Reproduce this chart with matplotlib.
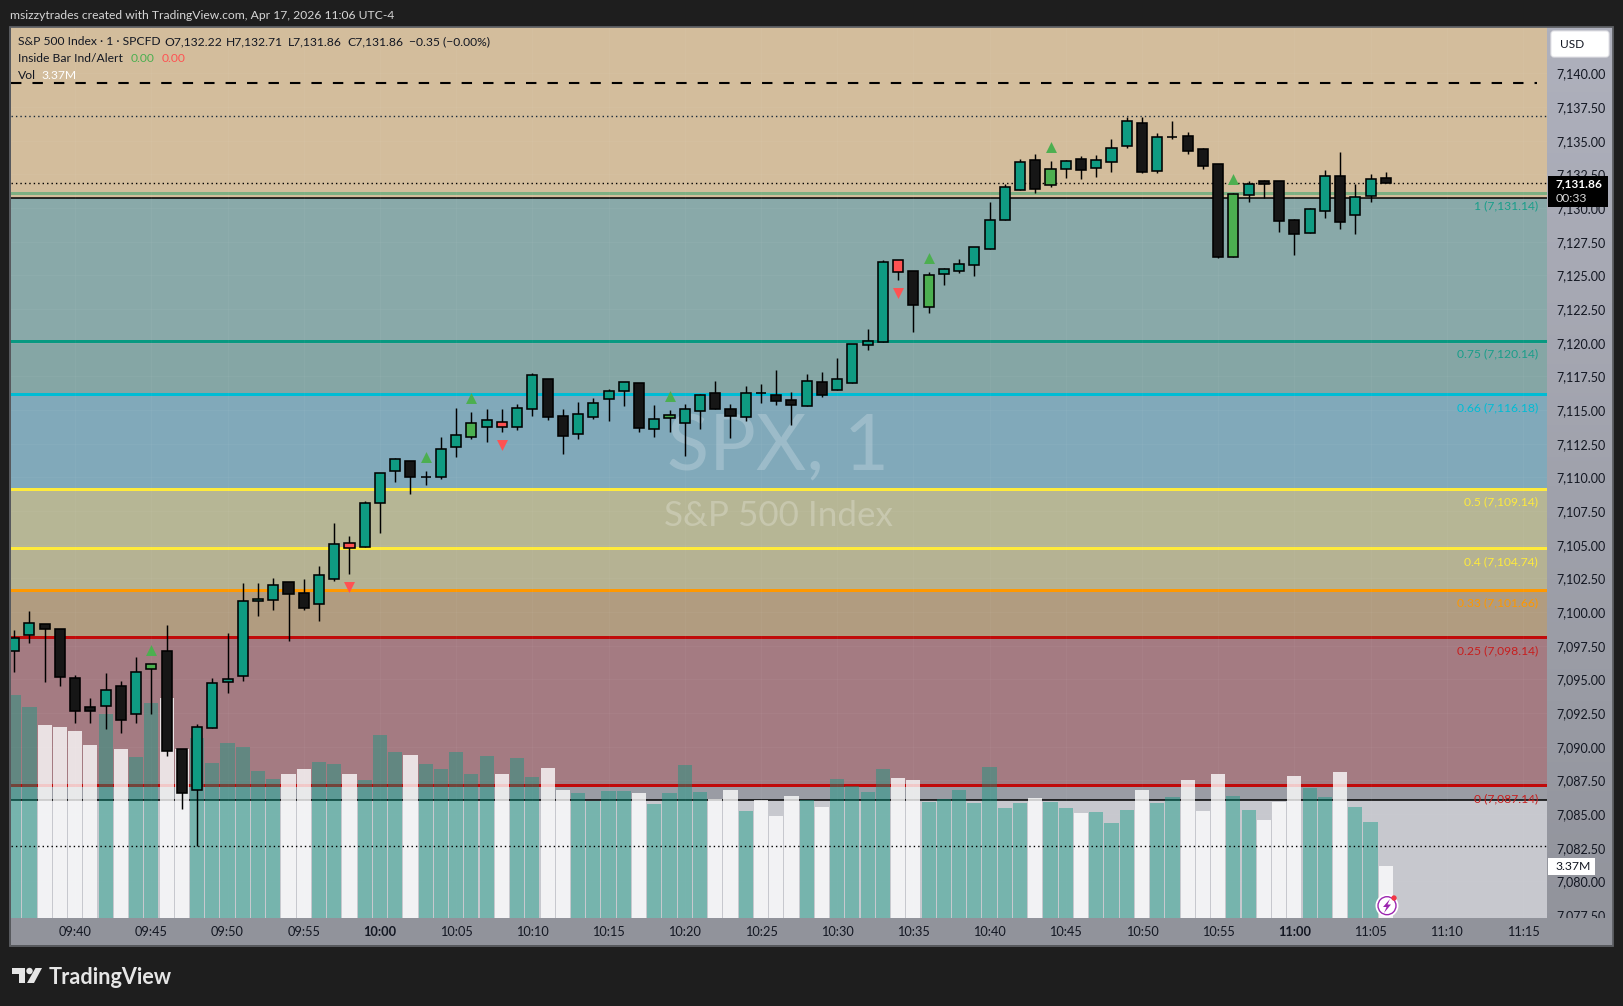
import matplotlib
matplotlib.use("Agg")
import matplotlib.pyplot as plt
import numpy as np
from matplotlib.patches import Rectangle, FancyBboxPatch, Circle, Polygon
from matplotlib.transforms import Bbox

plt.rcParams['font.family'] = ['Lato', 'DejaVu Sans']

W, H = 1623, 1006
opens = [7097.09,7098.33,7099.09,7098.72,7095.08,7092.93,7093.00,7094.49,7092.41,7095.75,
         7097.11,7089.81,7086.77,7091.37,7094.84,7095.28,7100.80,7100.88,7102.21,7101.39,
         7100.58,7102.43,7105.10,7104.86,7108.12,7110.50,7111.19,7110.03,7110.05,7112.28,
         7113.02,7113.77,7114.09,7113.77,7115.10,7117.28,7114.53,7113.25,7114.51,7115.84,
         7116.44,7116.98,7113.62,7114.43,7114.06,7114.95,7116.24,7115.05,7114.51,7116.24,
         7116.09,7115.72,7115.33,7117.06,7116.51,7116.98,7119.85,7120.08,7126.11,7125.30,
         7122.67,7125.12,7125.35,7125.79,7126.98,7129.13,7131.36,7133.54,7131.68,7132.92,
         7133.61,7132.99,7133.44,7134.63,7136.29,7132.77,7135.25,7135.32,7134.36,7133.24,
         7126.39,7130.99,7131.98,7131.98,7129.08,7128.17,7129.80,7132.35,7129.50,7130.92,
         7132.22]
highs = [7098.67,7100.08,7099.09,7098.72,7095.33,7093.62,7095.48,7094.89,7096.67,7096.12,
         7099.04,7089.81,7091.69,7095.11,7098.45,7102.16,7102.16,7102.53,7102.21,7102.46,
         7103.42,7106.61,7105.65,7108.25,7110.30,7111.44,7111.19,7110.47,7113.00,7115.15,
         7114.85,7115.08,7115.08,7115.45,7117.75,7117.28,7115.08,7115.60,7115.89,7116.54,
         7117.06,7116.98,7115.37,7115.00,7115.45,7116.19,7117.16,7115.45,7116.79,7116.93,
         7117.97,7116.34,7117.68,7117.82,7118.86,7119.88,7121.02,7126.14,7126.11,7125.30,
         7125.25,7125.55,7126.21,7127.08,7130.45,7131.76,7133.64,7134.01,7133.49,7133.56,
         7133.86,7133.93,7135.10,7136.78,7136.78,7135.57,7136.46,7135.64,7134.45,7133.24,
         7131.11,7132.00,7132.08,7131.98,7129.18,7130.00,7132.82,7134.16,7131.76,7132.52,
         7132.71]
lows = [7095.58,7097.73,7094.84,7094.51,7091.79,7091.79,7091.35,7091.05,7091.79,7092.46,
        7089.34,7085.41,7082.66,7091.37,7094.02,7094.91,7099.74,7100.16,7097.88,7100.18,
        7099.37,7102.33,7102.85,7104.86,7105.90,7109.68,7108.79,7109.46,7109.91,7111.54,
        7112.85,7112.63,7113.37,7113.52,7114.56,7114.26,7111.74,7112.85,7114.36,7114.21,
        7115.33,7113.37,7113.00,7113.37,7111.59,7113.59,7115.10,7112.92,7114.19,7115.52,
        7115.37,7113.89,7115.33,7115.99,7116.51,7116.98,7119.46,7120.08,7124.65,7120.79,
        7122.20,7124.28,7125.20,7124.98,7126.98,7129.13,7131.36,7131.14,7131.58,7132.23,
        7132.15,7132.30,7132.67,7134.48,7132.62,7132.62,7135.15,7134.01,7132.92,7126.31,
        7126.39,7130.47,7130.72,7128.22,7126.51,7128.17,7129.26,7128.44,7128.07,7130.45,
        7131.86]
closes = [7098.05,7099.17,7098.72,7095.16,7092.63,7092.63,7094.19,7091.97,7095.53,7096.12,
          7089.72,7086.55,7091.45,7094.71,7095.01,7100.80,7100.95,7101.99,7101.32,7100.33,
          7102.73,7105.03,7104.73,7108.07,7110.30,7111.34,7110.05,7110.03,7112.08,7113.12,
          7114.01,7114.24,7113.77,7115.13,7117.58,7114.51,7113.10,7114.68,7115.50,7116.39,
          7117.06,7113.69,7114.31,7114.61,7115.05,7116.09,7115.10,7114.58,7116.24,7116.24,
          7115.70,7115.40,7117.13,7116.14,7117.28,7119.88,7120.10,7125.97,7125.27,7122.82,
          7125.00,7125.45,7125.82,7127.08,7129.08,7131.53,7133.39,7131.44,7132.87,7133.46,
          7132.85,7133.54,7134.43,7136.43,7132.70,7135.25,7135.25,7134.26,7133.14,7126.39,
          7131.01,7131.76,7131.81,7129.06,7128.09,7129.90,7132.35,7128.99,7130.79,7132.13,
          7131.86]
volumes = [14.33,13.55,12.40,12.27,12.01,11.11,13.13,10.86,10.34,13.79,
           14.13,10.86,11.54,9.96,11.24,10.99,9.44,8.93,9.25,9.57,
           10.04,9.89,9.25,8.89,11.76,10.69,10.47,9.91,9.57,10.69,
           9.27,10.43,9.25,10.30,9.06,9.64,8.22,8.03,7.52,8.16,
           8.16,8.03,7.32,8.03,9.83,8.09,7.64,8.22,6.87,7.58,
           6.55,7.84,7.58,7.13,8.93,8.48,8.09,9.57,8.99,8.87,
           7.45,7.64,8.22,7.39,9.70,7.07,7.39,7.71,7.45,7.07,
           6.75,6.81,6.10,6.94,8.22,7.39,7.77,8.87,6.87,9.25,
           7.84,6.94,6.30,7.45,9.12,8.35,7.77,9.38,7.13,6.17,
           3.37]
white_volume_bars = [2,3,4,5,7,10,11,18,19,22,26,32,35,36,41,46,47,49,50,51,53,58,59,67,70,74,77,78,79,82,83,84,87,90]
inside_green = [9,30,43,60,68,80]
inside_red = [22,32,58]
up_markers_bar = [9,27,30,43,60,68,80]
up_markers_price = [7097.16,7111.49,7115.87,7116.02,7126.26,7134.50,7132.13]
down_markers_bar = [22,32,58]
down_markers_price = [7101.89,7112.40,7123.66]

fib_labels = ['1','0.75','0.66','0.5','0.4','0.33','0.25','0']
fib_prices = [7131.14,7120.14,7116.18,7109.14,7104.74,7101.66,7098.14,7087.14]
fib_colors = ['#7DAF82','#089981','#00BCD4','#FFEB3B','#FFEB3B','#FF9800','#C10A0A','#C10A0A']
fib_text_colors = ['#1A9E8A','#1A9E8A','#00BCD4','#FFEB3B','#FFEB3B','#FF9800','#C81E1E','#C81E1E']
band_edges = [7143.44,7130.72,7120.14,7116.18,7109.14,7104.74,7101.66,7098.14,7087.14,7086.05,7077.29]
band_colors = ['#D3BD9C','#89A9A9','#85A6A5','#81A9BA','#B6B695','#B5B293','#B19C80','#A47B82','#9A9CA4','#C7C8CE']

price_ticks = [7140-2.5*i for i in range(26)]
time_tick_bars = [4+5*i for i in range(20)]
time_tick_labels = ['09:40','09:45','09:50','09:55','10:00','10:05','10:10','10:15','10:20','10:25',
                    '10:30','10:35','10:40','10:45','10:50','10:55','11:00','11:05','11:10','11:15']

BG = '#1E1E1E'
fig = plt.figure(figsize=(W/100, H/100), dpi=100, facecolor=BG)
L, R, T, B = 10.5, 1547.0, 27.0, 918.0
pos = [L/W, 1-B/H, (R-L)/W, (B-T)/H]
xlim = ((L-14.2)/15.24, (R-14.2)/15.24)
ylim = (7077.29, 7143.44)

def pxax(x0, y0, x1, y1, z):
    a = fig.add_axes([x0/W, 1-y1/H, (x1-x0)/W, (y1-y0)/H], zorder=z)
    a.axis('off')
    return a

# price/time strip backgrounds
strip = pxax(L, T, 1612, 945, 0)
grad = np.linspace(0, 1, 256)[:, None]
c0, c1 = np.array([0xAF,0xB1,0xBD])/255, np.array([0x91,0x93,0x9B])/255
strip.imshow(c0[None,None,:]*(1-grad[:,:,None])+c1[None,None,:]*grad[:,:,None], aspect='auto')

ax = fig.add_axes(pos, zorder=1)
ax.set_xlim(xlim); ax.set_ylim(ylim)
for i, c in enumerate(band_colors):
    ax.axhspan(band_edges[i+1], band_edges[i], color=c, lw=0, zorder=0)
for s in ax.spines.values():
    s.set_visible(False)
ax.grid(True, color='white', alpha=0.035, lw=0.8)
ax.set_axisbelow(False)
for p, c in zip(fib_prices, fib_colors):
    ax.axhline(p, color=c, lw=3*0.72, zorder=2)
ax.axhline(7130.72, color='black', lw=1.1, zorder=2)
ax.axhline(7086.05, color='black', lw=1.1, zorder=2)
for l, p, c in zip(fib_labels, fib_prices, fib_text_colors):
    ax.annotate(f"{l} ({p:,.2f})", xy=(100, p), xytext=(0, -9.5), textcoords='offset points',
                ha='right', va='center', color=c, fontsize=8.7, zorder=3)
ax.text(0.4995, 0.526, 'SPX, 1', transform=ax.transAxes, ha='center', va='center',
        fontsize=56, color=(1, 1, 1, 0.22), zorder=1)
ax.text(0.4995, 0.451, 'S&P 500 Index', transform=ax.transAxes, ha='center', va='center',
        fontsize=25.2, color=(1, 1, 1, 0.24), zorder=1)
ax.yaxis.tick_right()
ax.set_yticks(price_ticks)
ax.set_yticklabels([f"{p:,.2f}" for p in price_ticks])
ax.set_xticks(time_tick_bars)
ax.set_xticklabels(time_tick_labels)
ax.tick_params(axis='y', length=0, pad=6.5, labelsize=9.0, labelcolor='#131722')
ax.tick_params(axis='x', length=0, pad=6, labelsize=9.2, labelcolor='#131722')
for t in ax.get_xticklabels():
    if t.get_text() in ('10:00', '11:00'):
        t.set_fontweight('bold')
clip = Bbox([[1548, H-918], [1612, H-27]])
for t in ax.get_yticklabels():
    t.set_clip_box(clip); t.set_clip_on(True)

# volume
vax = fig.add_axes(pos, zorder=2, facecolor='none')
vax.axis('off')
vax.set_xlim(xlim); vax.set_ylim(0, 891/15.56)
n = np.arange(len(opens))
vol_cols = [(1, 1, 1, 0.78) if i in white_volume_bars else (8/255, 153/255, 129/255, 0.42) for i in n]
vax.bar(n, volumes, width=0.93, color=vol_cols, lw=0)

# candles
cax = fig.add_axes(pos, zorder=3, facecolor='none')
cax.axis('off')
cax.set_xlim(xlim); cax.set_ylim(ylim)
o, h, l, c = map(np.array, (opens, highs, lows, closes))
def body_color(i):
    if i in inside_green: return '#4CAF50'
    if i in inside_red: return '#FF5252'
    return '#0F9B82' if c[i] >= o[i] else '#161616'
cols = [body_color(i) for i in n]
cax.axhline(7136.81, color='#1B2A3A', lw=1.0, dashes=(1, 2.2), zorder=1)
cax.axhline(7131.86, color='black', lw=1.0, dashes=(1, 2.2), zorder=1)
cax.axhline(7082.61, color='black', lw=1.0, dashes=(1, 2.2), zorder=1)
cax.plot([xlim[0], 99.9], [7139.30, 7139.30], color='black', lw=1.5, dashes=(5, 5.3), zorder=1,
         dash_capstyle='butt')
cax.vlines(n, l, h, color='black', lw=1.05, zorder=3)
cax.bar(n, c-o, bottom=o, width=0.66, color=cols, edgecolor='black', lw=1.15, zorder=4)
cax.scatter(up_markers_bar, up_markers_price, marker='^', s=62, color='#4CAF50', lw=0, zorder=5)
cax.scatter(down_markers_bar, down_markers_price, marker='v', s=62, color='#FF5252', lw=0, zorder=5)

# chrome overlay
ov = fig.add_axes([0, 0, 1, 1], zorder=10, facecolor='none')
ov.axis('off')
ov.set_xlim(0, W); ov.set_ylim(H, 0)
ov.add_patch(Rectangle((9.5, 26.5), 1603, 919, fill=False, ec='#5E6064', lw=1.3))
TXT = '#131722'
def t(x, y, s, **k):
    k.setdefault('fontsize', 8.7); k.setdefault('color', TXT); k.setdefault('va', 'center')
    return ov.text(x, y, s, **k)
t(10, 15, 'msizzytrades created with TradingView.com, Apr 17, 2026 11:06 UTC-4', color='#D6D6D6')
t(18, 41.7, 'S&P 500 Index · 1 · SPCFD')
for x, s in [(164, 'O7,132.22'), (226, 'H7,132.71'), (288, 'L7,131.86'), (347.5, 'C7,131.86'), (409, '−0.35 (−0.00%)')]:
    t(x, 41.7, s)
t(18, 58.7, 'Inside Bar Ind/Alert')
t(131, 58.7, '0.00', color='#4CAF50')
t(161.4, 58.7, '0.00', color='#FF5252')
t(18, 75.7, 'Vol')
t(41.8, 75.7, '3.37M', color='white')
# USD button
ov.add_patch(FancyBboxPatch((1552.5, 32.5), 55, 23, boxstyle='round,pad=1.5,rounding_size=3', fc='white', ec='#E4E4E8', lw=0.8))
t(1560, 44.5, 'USD', fontsize=8.6)
# last price badge
ov.add_patch(Rectangle((1548, 176), 60, 30.7, fc='black', lw=0))
t(1556, 184, '7,131.86', color='white', fontweight='bold', fontsize=8.6)
t(1556, 198, '00:33', color='#D8D8D8', fontsize=8.8)
# volume badge
ov.add_patch(Rectangle((1548, 858), 47, 17, fc='white', lw=0))
t(1556, 866.5, '3.37M', fontsize=8.8)
# Lightning icon
ov.add_patch(Circle((1387, 905.7), 11.5, fc='white', lw=0))
ov.add_patch(Circle((1387, 905.7), 9, fc='none', ec='#9C27B0', lw=1.0))
ov.add_patch(Polygon([(1390, 899), (1383, 907), (1386.5, 907), (1384, 913), (1391, 904.5), (1387.5, 904.5)], fc='#9C27B0', lw=0))
ov.add_patch(Circle((1394, 898), 2.7, fc='#F23645', lw=0))
# TradingView logo
LOGO = '#E6E6E6'
ov.add_patch(Polygon([(12, 968), (25, 968), (25, 983), (19, 983), (19, 974), (12, 974)], fc=LOGO, lw=0))
ov.add_patch(Circle((29.5, 971), 3.2, fc=LOGO, lw=0))
ov.add_patch(Polygon([(35.5, 968), (42, 968), (34, 983), (27, 983)], fc=LOGO, lw=0))
t(49, 977, 'TradingView', color=LOGO, fontsize=15.6, fontweight='bold')

fig.savefig('out.png', dpi=100, facecolor=BG)
